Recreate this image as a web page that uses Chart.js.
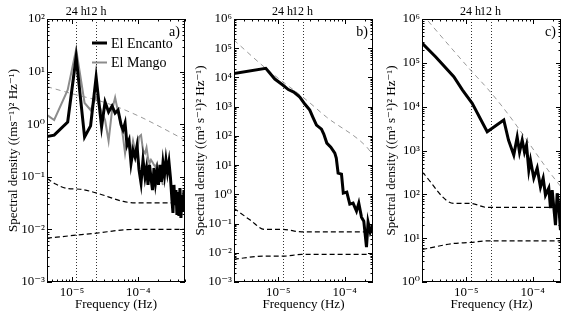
<!DOCTYPE html>
<html lang="en">
<head>
  <meta charset="UTF-8">
  <title>Spectral density</title>
  <script src="https://cdn.jsdelivr.net/npm/chart.js"></script>
  <style>
    html, body { margin: 0; padding: 0; background: #fff; }
    #wrap { position: relative; width: 568px; height: 320px; }
    .panel { position: absolute; top: 0; height: 320px; }
  </style>
</head>
<body>
  <div id="wrap">
    <div class="panel" style="left:0;width:190px"><canvas id="chart-a"></canvas></div>
    <div class="panel" style="left:190px;width:188px"><canvas id="chart-b"></canvas></div>
    <div class="panel" style="left:378px;width:190px"><canvas id="chart-c"></canvas></div>
  </div>
  <script>
    // tidal periods marked on every panel
    const periodHours = [24, 12];
    const periodLabels = ['24 h', '12 h'];

    // panel a) - velocity spectra at two stations
    const freqA = [3.81e-6, 5.39e-6, 8.62e-6, 1.157e-5, 1.55e-5, 1.91e-5, 2.315e-5, 2.80e-5, 3.16e-5, 3.57e-5,
      4.03e-5, 4.48e-5, 4.96e-5, 5.51e-5, 5.90e-5, 6.33e-5, 6.78e-5, 7.27e-5, 7.79e-5, 8.35e-5,
      8.95e-5, 9.59e-5, 1.028e-4, 1.102e-4, 1.181e-4, 1.266e-4, 1.334e-4, 1.405e-4, 1.48e-4, 1.559e-4,
      1.642e-4, 1.73e-4, 1.822e-4, 1.92e-4, 2.022e-4, 2.13e-4, 2.244e-4, 2.363e-4, 2.49e-4, 2.623e-4,
      2.763e-4, 2.91e-4, 3.066e-4, 3.23e-4, 3.343e-4, 3.46e-4, 3.58e-4, 3.71e-4, 3.84e-4, 3.97e-4,
      4.11e-4, 4.26e-4, 4.41e-4, 4.57e-4, 4.73e-4, 4.90e-4, 5.07e-4];
    const encanto = [0.57, 0.62, 1.10, 19, 0.57, 0.93, 7.9, 0.89, 2.64, 1.71,
      2.22, 1.63, 1.86, 0.97, 0.78, 1.05, 0.40, 0.50, 0.18, 0.32,
      0.24, 0.39, 0.135, 0.076, 0.21, 0.099, 0.147, 0.070, 0.168, 0.095,
      0.056, 0.147, 0.076, 0.123, 0.070, 0.168, 0.080, 0.183, 0.108, 0.208,
      0.123, 0.191, 0.095, 0.036, 0.0205, 0.070, 0.029, 0.056, 0.0188, 0.051,
      0.018, 0.061, 0.0165, 0.045, 0.0214, 0.056, 0.0234];
    const mango = [1.63, 1.20, 4.47, 26.5, 2.53, 1.86, 3.29, 1.71, 1.20, 0.48,
      1.86, 3.2, 1.71, 0.97, 0.57, 0.28, 0.50, 0.37, 0.28, 0.48,
      0.32, 0.28, 0.57, 0.62, 0.32, 0.28, 0.36, 0.23, 0.18, 0.21,
      0.19, 0.168, 0.155, 0.175, 0.123, 0.099, 0.088, 0.070];
    const fitFreqA = [4.2e-6, 1.185e-5, 2.37e-5, 4.74e-5, 1.064e-4, 2.13e-4, 5.07e-4];
    const fitA = [5.17, 3.59, 2.88, 2.15, 1.39, 0.895, 0.50];
    const upFreqA = [4.19e-6, 5.78e-6, 8.38e-6, 1.33e-5, 2.37e-5, 5.97e-5, 8.95e-5, 5.07e-4];
    const upperA = [0.093, 0.072, 0.060, 0.058, 0.049, 0.034, 0.032, 0.032];
    const lowFreqA = [4.19e-6, 1.185e-5, 2.37e-5, 5.97e-5, 1.064e-4, 5.07e-4];
    const lowerA = [0.0068, 0.0078, 0.0085, 0.0098, 0.0100, 0.0100];

    // panel b)
    const freqB = [2.14e-6, 6.48e-6, 8.86e-6, 1.169e-5, 1.415e-5, 1.712e-5, 2.108e-5, 2.506e-5, 2.98e-5, 3.31e-5,
      3.76e-5, 4.47e-5, 4.84e-5, 5.38e-5, 6.18e-5, 7.10e-5, 7.47e-5, 7.96e-5, 8.95e-5, 9.53e-5,
      1.076e-4, 1.194e-4, 1.338e-4, 1.506e-4, 1.631e-4, 1.791e-4, 1.94e-4, 2.13e-4, 2.25e-4, 2.43e-4, 2.65e-4];
    const specB = [13600, 20500, 8810, 5500, 3850, 3160, 2130, 1230, 765, 441,
      234, 171, 115, 56.7, 41.3, 25.8, 17.4, 5.33, 4.92, 1.10,
      1.19, 0.461, 0.50, 0.266, 0.50, 0.166, 0.121, 0.0156, 0.112, 0.0507, 0.0815];
    const fitFreqB = [2.14e-6, 6.48e-6, 2.66e-5, 5.32e-5, 2.13e-4, 2.65e-4];
    const fitB = [1.91e5, 2.05e4, 1680, 441, 42.4, 22];
    const upFreqB = [2.14e-6, 3.72e-6, 6.26e-6, 1.18e-5, 2.24e-5, 2.65e-4];
    const upperB = [0.337, 0.135, 0.0628, 0.0628, 0.052, 0.052];
    const lowFreqB = [2.14e-6, 5.9e-6, 1.18e-5, 2.24e-5, 2.65e-4];
    const lowerB = [0.0060, 0.00766, 0.00766, 0.00875, 0.00875];

    // panel c)
    const freqC = [2.17e-6, 3.44e-6, 6.48e-6, 8.77e-6, 1.227e-5, 2.064e-5, 3.67e-5, 4.32e-5, 5.19e-5, 5.84e-5,
      6.33e-5, 6.95e-5, 7.52e-5, 8.07e-5, 8.74e-5, 9.27e-5, 1.039e-4, 1.169e-4, 1.311e-4, 1.439e-4,
      1.559e-4, 1.748e-4, 1.854e-4, 1.966e-4, 2.205e-4, 2.34e-4, 2.47e-4, 2.62e-4];
    const specC = [2.79e5, 1.38e5, 4.82e4, 2.39e4, 1.19e4, 2670, 4940, 1730, 785, 2020,
      919, 1730, 919, 1330, 357, 604, 234, 396, 146, 234,
      95.9, 139, 48.4, 125, 19.8, 106, 56.6, 15.2];
    const fitFreqC = [2.17e-6, 2.58e-6, 1.157e-5, 2.18e-5, 4.37e-5, 1.854e-4, 2.67e-4];
    const fitC = [1.3e6, 9.5e5, 6.86e4, 2.39e4, 6430, 300, 148];
    const upFreqC = [2.17e-6, 6.48e-6, 1.157e-5, 2.064e-5, 2.67e-4];
    const upperC = [320, 62, 62, 50.2, 50.2];
    const lowFreqC = [2.17e-6, 6.48e-6, 1.157e-5, 2.064e-5, 2.67e-4];
    const lowerC = [5.52, 7.57, 7.98, 8.68, 8.68];

    // axis ticks
    const xTicks = [1e-5, 1e-4];
    const yTicksA = [1e-3, 1e-2, 1e-1, 1e0, 1e1, 1e2];
    const yTicksB = [1e-3, 1e-2, 1e-1, 1e0, 1e1, 1e2, 1e3, 1e4, 1e5, 1e6];
    const yTicksC = [1e0, 1e1, 1e2, 1e3, 1e4, 1e5, 1e6];

    Chart.defaults.font.family = "'Liberation Serif', 'DejaVu Serif', serif";
    Chart.defaults.color = '#000';

    const SUP = { '-': '\u207b', '0': '\u2070', '1': '\u00b9', '2': '\u00b2', '3': '\u00b3', '4': '\u2074',
      '5': '\u2075', '6': '\u2076', '7': '\u2077', '8': '\u2078', '9': '\u2079' };
    const pow10Label = v => '10' + String(Math.round(Math.log10(v))).split('').map(c => SUP[c]).join('');

    const series = (freq, vals) => vals.map((v, i) => ({ x: freq[i], y: v }));
    const mainLine = (label, freq, vals, color, width) => ({
      label, data: series(freq, vals), borderColor: color, borderWidth: width, legend: true
    });
    const dashLine = (freq, vals, color, width, dash) => ({
      data: series(freq, vals), borderColor: color, borderWidth: width, borderDash: dash,
      cubicInterpolationMode: 'monotone'
    });

    function minorValues(min, max) {
      const out = [];
      for (let e = Math.floor(Math.log10(min)); e <= Math.ceil(Math.log10(max)); e++) {
        for (let m = 1; m < 10; m++) {
          const v = m * Math.pow(10, e);
          if (v >= min * 0.9999 && v <= max * 1.0001) out.push([v, m === 1]);
        }
      }
      return out;
    }

    const framePlugin = {
      id: 'frame',
      beforeDatasetsDraw(chart) {
        const { ctx, chartArea: a, scales: { x } } = chart;
        ctx.save();
        ctx.strokeStyle = '#333';
        ctx.lineWidth = 1;
        ctx.setLineDash([1, 2]);
        periodHours.forEach(h => {
          const px = Math.round(x.getPixelForValue(1 / (h * 3600))) + 0.5;
          ctx.beginPath();
          ctx.moveTo(px, a.top);
          ctx.lineTo(px, a.bottom);
          ctx.stroke();
        });
        ctx.restore();
      },
      afterDraw(chart, args, opts) {
        const { ctx, chartArea: a, scales: { x, y } } = chart;
        ctx.save();
        ctx.strokeStyle = '#000';
        ctx.lineWidth = 1;
        ctx.strokeRect(a.left + 0.5, a.top + 0.5, a.right - a.left - 1, a.bottom - a.top - 1);

        ctx.beginPath();
        minorValues(x.min, x.max).forEach(([v, major]) => {
          const px = Math.round(x.getPixelForValue(v)) + 0.5;
          const len = major ? 5 : 2.5;
          ctx.moveTo(px, a.bottom); ctx.lineTo(px, a.bottom - len);
          ctx.moveTo(px, a.top); ctx.lineTo(px, a.top + len);
        });
        minorValues(y.min, y.max).forEach(([v, major]) => {
          const py = Math.round(y.getPixelForValue(v)) + 0.5;
          const len = major ? 5 : 2.5;
          ctx.moveTo(a.left, py); ctx.lineTo(a.left + len, py);
          ctx.moveTo(a.right, py); ctx.lineTo(a.right - len, py);
        });
        ctx.stroke();

        // period labels above the frame
        ctx.fillStyle = '#000';
        ctx.font = "12px 'Liberation Serif', serif";
        ctx.textAlign = 'center';
        ctx.textBaseline = 'middle';
        periodHours.forEach((h, i) => {
          ctx.fillText(periodLabels[i], x.getPixelForValue(1 / (h * 3600)), 11.5);
        });

        ctx.font = "14px 'Liberation Serif', serif";
        ctx.textAlign = 'right';
        ctx.fillText(opts.tag, a.right - 5, a.top + 13);

        if (opts.legend) {
          ctx.textAlign = 'left';
          chart.data.datasets.filter(d => d.legend).forEach((d, i) => {
            const ly = a.top + 24 + i * 19.5;
            ctx.strokeStyle = d.borderColor;
            ctx.lineWidth = d.borderWidth;
            ctx.beginPath();
            ctx.moveTo(a.left + 45, ly);
            ctx.lineTo(a.left + 60, ly);
            ctx.stroke();
            ctx.fillText(d.label, a.left + 64, ly + 1);
          });
        }
        ctx.restore();
      }
    };

    function makePanel(id, p) {
      return new Chart(document.getElementById(id), {
        type: 'line',
        data: { datasets: p.datasets },
        options: {
          responsive: true,
          maintainAspectRatio: false,
          animation: false,
          layout: { padding: { top: 19, right: p.padRight, left: 0, bottom: 0 } },
          elements: { point: { radius: 0 }, line: { tension: 0 } },
          plugins: {
            legend: { display: false },
            tooltip: { enabled: false },
            frame: { tag: p.tag, legend: p.legend }
          },
          scales: {
            x: {
              type: 'logarithmic', min: p.xMin, max: p.xMax,
              grid: { display: false, drawTicks: false }, border: { display: false },
              afterBuildTicks: s => { s.ticks = xTicks.map(v => ({ value: v })); },
              afterFit: s => { s.height = 38; },
              ticks: { callback: pow10Label, maxRotation: 0, autoSkip: false, padding: 3, font: { size: 13 } },
              title: { display: true, text: 'Frequency (Hz)', font: { size: 13 }, padding: { top: 0, bottom: 8 } }
            },
            y: {
              type: 'logarithmic', min: p.yTicks[0], max: p.yTicks[p.yTicks.length - 1],
              grid: { display: false, drawTicks: false }, border: { display: false },
              afterBuildTicks: s => { s.ticks = p.yTicks.map(v => ({ value: v })); },
              afterFit: s => { s.width = p.yWidth; },
              ticks: { callback: pow10Label, autoSkip: false, padding: 2, font: { size: 13 } },
              title: { display: true, text: p.yTitle, font: { size: 13 }, padding: { top: p.titlePad, bottom: 0 } }
            }
          }
        },
        plugins: [framePlugin]
      });
    }

    const fluxTitle = 'Spectral density ((m\u00b3 s\u207b\u00b9)\u00b2 Hz\u207b\u00b9)';

    makePanel('chart-a', {
      tag: 'a)', legend: true, xMin: 4.2e-6, xMax: 5.08e-4, yTicks: yTicksA, yWidth: 47, padRight: 5, titlePad: 6,
      yTitle: 'Spectral density ((ms\u207b\u00b9)\u00b2 Hz\u207b\u00b9)',
      datasets: [
        mainLine('El Encanto', freqA, encanto, '#000', 3),
        mainLine('El Mango', freqA, mango, '#8c8c8c', 2),
        dashLine(fitFreqA, fitA, '#999', 1, [5, 4]),
        dashLine(upFreqA, upperA, '#000', 1.2, [5, 3]),
        dashLine(lowFreqA, lowerA, '#000', 1.2, [5, 3])
      ]
    });

    makePanel('chart-b', {
      tag: 'b)', legend: false, xMin: 2.15e-6, xMax: 2.67e-4, yTicks: yTicksB, yWidth: 44, padRight: 5, titlePad: 3,
      yTitle: fluxTitle,
      datasets: [
        mainLine('', freqB, specB, '#000', 3),
        dashLine(fitFreqB, fitB, '#999', 1, [5, 4]),
        dashLine(upFreqB, upperB, '#000', 1.2, [5, 3]),
        dashLine(lowFreqB, lowerB, '#000', 1.2, [5, 3])
      ]
    });

    makePanel('chart-c', {
      tag: 'c)', legend: false, xMin: 2.15e-6, xMax: 2.67e-4, yTicks: yTicksC, yWidth: 44, padRight: 7, titlePad: 6,
      yTitle: fluxTitle,
      datasets: [
        mainLine('', freqC, specC, '#000', 3),
        dashLine(fitFreqC, fitC, '#999', 1, [5, 4]),
        dashLine(upFreqC, upperC, '#000', 1.2, [5, 3]),
        dashLine(lowFreqC, lowerC, '#000', 1.2, [5, 3])
      ]
    });
  </script>
</body>
</html>
